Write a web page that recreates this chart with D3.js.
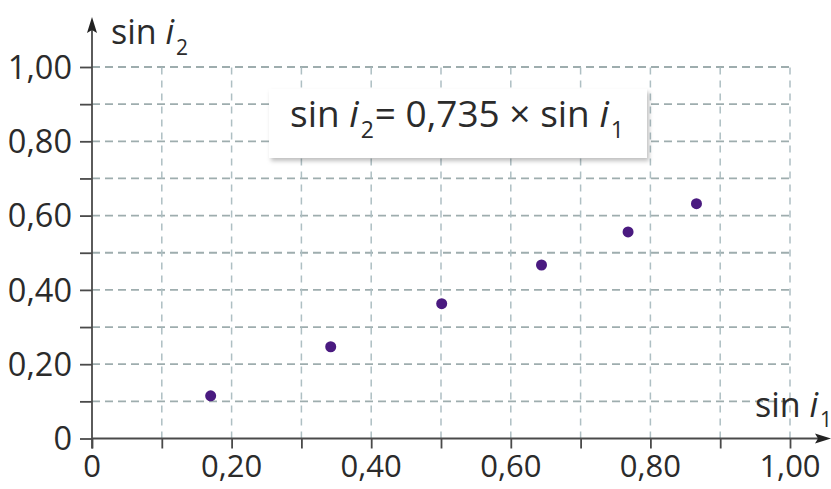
<!DOCTYPE html>
<html><head><meta charset="utf-8">
<script src="https://cdn.jsdelivr.net/npm/d3@7"></script>
<style>body{margin:0;background:#fff}svg{display:block}text{font-family:"Open Sans","Noto Sans",sans-serif;fill:#2b2b2b}</style>
</head><body><svg id="c" width="831" height="489"></svg>
<script>
const sinI1 = [0.170, 0.342, 0.501, 0.644, 0.768, 0.866];
const sinI2 = [0.115, 0.247, 0.363, 0.467, 0.556, 0.632];
const xTickLabels = ["0", "0,20", "0,40", "0,60", "0,80", "1,00"];
const yTickLabels = ["0", "0,20", "0,40", "0,60", "0,80", "1,00"];
const gridSteps = [0.1,0.2,0.3,0.4,0.5,0.6,0.7,0.8,0.9,1.0];
const equation = {lhs:"sin ", v:"i", s2:"2", rhs:"= 0,735 × sin ", s1:"1"};

const svg = d3.select("#c");
const x = d3.scaleLinear().domain([0,1]).range([92,790]);
const y = d3.scaleLinear().domain([0,1]).range([438.5,67]);
const gridCol = "#9eadae";

// grid
const g = svg.append("g");
g.selectAll(".hg").data(gridSteps).enter().append("line")
  .attr("x1", x(0)).attr("x2", x(1)).attr("y1", d=>y(d)).attr("y2", d=>y(d))
  .attr("stroke", gridCol).attr("stroke-width",1.8).attr("stroke-dasharray","8,5");
g.selectAll(".vg").data(gridSteps).enter().append("line")
  .attr("y1", y(0)).attr("y2", y(1)).attr("x1", d=>x(d)).attr("x2", d=>x(d))
  .attr("stroke", "#aebfc3").attr("stroke-width",1.5).attr("stroke-dasharray","7,6");

// axes with ticks
const axCol = "#4a4a4a";
const yAx = svg.append("g").attr("transform",`translate(${x(0)},0)`)
  .call(d3.axisLeft(y).tickValues(d3.range(0,1.01,0.1)).tickSize(12).tickFormat(""));
yAx.select(".domain").remove();
yAx.selectAll("line").attr("stroke",axCol).attr("stroke-width",1.8);
const xAx = svg.append("g").attr("transform",`translate(0,${y(0)})`)
  .call(d3.axisBottom(x).tickValues(d3.range(0,1.01,0.1)).tickSize(10).tickFormat(""));
xAx.select(".domain").remove();
xAx.selectAll("line").attr("stroke",axCol).attr("stroke-width",1.8);

// axis lines with arrows
svg.append("line").attr("x1",x(0)).attr("x2",x(0)).attr("y1",y(0)+10).attr("y2",28).attr("stroke",axCol).attr("stroke-width",1.8);
svg.append("path").attr("d",`M${x(0)},17 L${x(0)-5},33 L${x(0)},30 L${x(0)+5},33 Z`).attr("fill","#222");
svg.append("line").attr("x1",x(0)).attr("x2",824).attr("y1",y(0)).attr("y2",y(0)).attr("stroke",axCol).attr("stroke-width",1.8);
svg.append("path").attr("d",`M831,${y(0)} L815,${y(0)-5} L818,${y(0)} L815,${y(0)+5} Z`).attr("fill","#222");

// tick labels
svg.selectAll(".yl").data(yTickLabels).enter().append("text")
  .attr("x",72).attr("y",(d,i)=>y(i*0.2)).attr("dy","0.36em").attr("text-anchor","end")
  .attr("font-size",32.5).text(d=>d);
svg.selectAll(".xl").data(xTickLabels).enter().append("text")
  .attr("x",(d,i)=>x(i*0.2)).attr("y",477).attr("text-anchor","middle")
  .attr("font-size",31).text(d=>d);

// axis titles
const t2 = svg.append("text").attr("x",111).attr("y",44).attr("font-size",34);
t2.append("tspan").text("sin ");
t2.append("tspan").attr("font-style","italic").text("i");
t2.append("tspan").attr("font-size",21).attr("dy",11).attr("dx",2).text("2");
const t1 = svg.append("text").attr("x",755).attr("y",417).attr("font-size",34);
t1.append("tspan").text("sin ");
t1.append("tspan").attr("font-style","italic").text("i");
t1.append("tspan").attr("font-size",21).attr("dy",10).attr("dx",2).text("1");

// equation box
const defs = svg.append("defs");
const f = defs.append("filter").attr("id","sh").attr("x","-10%").attr("y","-10%").attr("width","130%").attr("height","140%");
f.append("feDropShadow").attr("dx",2).attr("dy",3).attr("stdDeviation",2).attr("flood-color","#000").attr("flood-opacity",0.25);
svg.append("rect").attr("x",269).attr("y",89).attr("width",378).attr("height",69).attr("fill","#fff").attr("filter","url(#sh)");
const eq = svg.append("text").attr("x",290).attr("y",127).attr("font-size",37);
eq.append("tspan").text(equation.lhs);
eq.append("tspan").attr("font-style","italic").text(equation.v);
eq.append("tspan").attr("font-size",23).attr("dy",11).attr("dx",2).text(equation.s2);
eq.append("tspan").attr("dy",-11).attr("dx",1).text(equation.rhs);
eq.append("tspan").attr("font-style","italic").text(equation.v);
eq.append("tspan").attr("font-size",23).attr("dy",11).attr("dx",2).text(equation.s1);

// points
svg.selectAll(".pt").data(sinI1.map((v,i)=>[v,sinI2[i]])).enter().append("circle")
  .attr("cx",d=>x(d[0])).attr("cy",d=>y(d[1])).attr("r",5.5).attr("fill","#4a1a80");
</script></body></html>
